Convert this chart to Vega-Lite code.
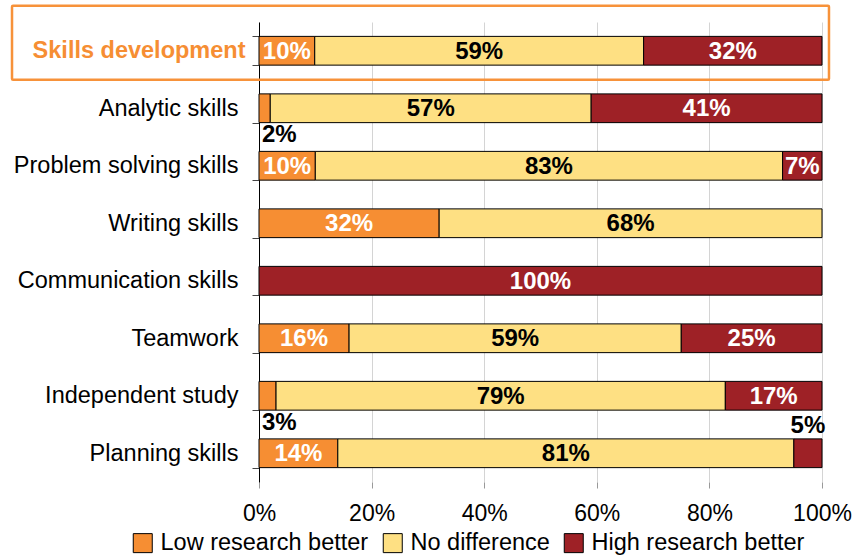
{
  "$schema": "https://vega.github.io/schema/vega-lite/v6.json",
  "autosize": "none",
  "width": 563,
  "height": 460,
  "padding": {"left": 259, "top": 22, "right": 31, "bottom": 75},
  "background": "white",
  "config": {
    "font": "Liberation Sans",
    "view": {"stroke": null}
  },
  "data": {
    "values": [
      {"skill": "Skills development", "type": "Low research better", "value": 10},
      {"skill": "Skills development", "type": "No difference", "value": 59},
      {"skill": "Skills development", "type": "High research better", "value": 32},
      {"skill": "Analytic skills", "type": "Low research better", "value": 2},
      {"skill": "Analytic skills", "type": "No difference", "value": 57},
      {"skill": "Analytic skills", "type": "High research better", "value": 41},
      {"skill": "Problem solving skills", "type": "Low research better", "value": 10},
      {"skill": "Problem solving skills", "type": "No difference", "value": 83},
      {"skill": "Problem solving skills", "type": "High research better", "value": 7},
      {"skill": "Writing skills", "type": "Low research better", "value": 32},
      {"skill": "Writing skills", "type": "No difference", "value": 68},
      {"skill": "Writing skills", "type": "High research better", "value": 0},
      {"skill": "Communication skills", "type": "Low research better", "value": 0},
      {"skill": "Communication skills", "type": "No difference", "value": 0},
      {"skill": "Communication skills", "type": "High research better", "value": 100},
      {"skill": "Teamwork", "type": "Low research better", "value": 16},
      {"skill": "Teamwork", "type": "No difference", "value": 59},
      {"skill": "Teamwork", "type": "High research better", "value": 25},
      {"skill": "Independent study", "type": "Low research better", "value": 3},
      {"skill": "Independent study", "type": "No difference", "value": 79},
      {"skill": "Independent study", "type": "High research better", "value": 17},
      {"skill": "Planning skills", "type": "Low research better", "value": 14},
      {"skill": "Planning skills", "type": "No difference", "value": 81},
      {"skill": "Planning skills", "type": "High research better", "value": 5}
    ]
  },
  "transform": [
    {"calculate": "indexof(['Low research better','No difference','High research better'], datum.type)", "as": "rank"},
    {"stack": "value", "groupby": ["skill"], "sort": [{"field": "rank", "order": "ascending"}], "offset": "normalize", "as": ["x0", "x1"]},
    {"calculate": "(datum.x0 + datum.x1) / 2", "as": "xmid"},
    {"calculate": "datum.value + '%'", "as": "label"}
  ],
  "encoding": {
    "y": {
      "field": "skill",
      "type": "nominal",
      "sort": ["Skills development", "Analytic skills", "Problem solving skills", "Writing skills", "Communication skills", "Teamwork", "Independent study", "Planning skills"],
      "scale": {"paddingInner": 0.5, "paddingOuter": 0.25},
      "axis": {
        "title": null,
        "domainColor": "#000000",
        "domainWidth": 1,
        "tickBand": "extent",
        "tickSize": 7,
        "tickColor": "#444444",
        "labelFontSize": 23.5,
        "labelPadding": {"condition": {"test": "datum.value == 'Skills development'", "value": 7}, "value": 14},
        "labelColor": {"condition": {"test": "datum.value == 'Skills development'", "value": "#F68E33"}, "value": "#000000"},
        "labelFontWeight": {"condition": {"test": "datum.value == 'Skills development'", "value": "bold"}, "value": "normal"},
        "labelLimit": 300
      }
    }
  },
  "layer": [
    {
      "mark": {"type": "bar", "stroke": "#000000", "strokeWidth": 1},
      "transform": [{"filter": "datum.value > 0"}],
      "encoding": {
        "x": {
          "field": "x0",
          "type": "quantitative",
          "scale": {"domain": [0, 1], "nice": false},
          "axis": {
            "title": null,
            "format": "%",
            "values": [0, 0.2, 0.4, 0.6, 0.8, 1],
            "domain": false,
            "grid": true,
            "gridColor": "#d4d4d4",
            "gridWidth": 1,
            "tickColor": "#999999",
            "tickSize": 6,
            "labelFontSize": 23,
            "labelPadding": 14,
            "labelColor": "#000000",
            "labelFlush": false
          }
        },
        "x2": {"field": "x1"},
        "color": {
          "field": "type",
          "type": "nominal",
          "scale": {
            "domain": ["Low research better", "No difference", "High research better"],
            "range": ["#F68E33", "#FEE083", "#9E2126"]
          },
          "legend": {
            "title": null,
            "orient": "none",
            "direction": "horizontal",
            "legendX": -128,
            "legendY": 509,
            "symbolType": "square",
            "symbolSize": 361,
            "symbolStrokeColor": "#000000",
            "symbolStrokeWidth": 1,
            "symbolOpacity": 1,
            "labelFontSize": 23.5,
            "labelColor": "#000000",
            "labelOffset": 6,
            "columnPadding": 12,
            "labelLimit": 300
          }
        }
      }
    },
    {
      "mark": {"type": "text", "fontSize": 24, "fontWeight": "bold", "baseline": "middle", "align": "center", "dy": 1},
      "transform": [{"filter": "datum.value >= 7"}],
      "encoding": {
        "x": {"field": "xmid", "type": "quantitative"},
        "text": {"field": "label"},
        "color": {
          "condition": {"test": "datum.type == 'No difference'", "value": "#000000"},
          "value": "#ffffff"
        }
      }
    },
    {
      "mark": {"type": "text", "fontSize": 24, "fontWeight": "bold", "baseline": "middle", "align": "left", "dx": 3, "dy": 27, "color": "#000000"},
      "transform": [{"filter": "datum.value > 0 && datum.value <= 3"}],
      "encoding": {
        "x": {"field": "x0", "type": "quantitative"},
        "text": {"field": "label"}
      }
    },
    {
      "mark": {"type": "text", "fontSize": 24, "fontWeight": "bold", "baseline": "middle", "align": "center", "dy": -27, "color": "#000000"},
      "transform": [{"filter": "datum.value > 3 && datum.value < 7"}],
      "encoding": {
        "x": {"field": "xmid", "type": "quantitative"},
        "text": {"field": "label"}
      }
    },
    {
      "data": {"values": [{"skill": "Skills development"}]},
      "mark": {"type": "bar", "fill": null, "fillOpacity": 0, "stroke": "#F7923A", "strokeWidth": 2.5, "height": 74, "yOffset": -8, "cornerRadius": 1},
      "encoding": {
        "x": {"datum": -0.4387, "type": "quantitative"},
        "x2": {"datum": 1.0124}
      }
    }
  ]
}
